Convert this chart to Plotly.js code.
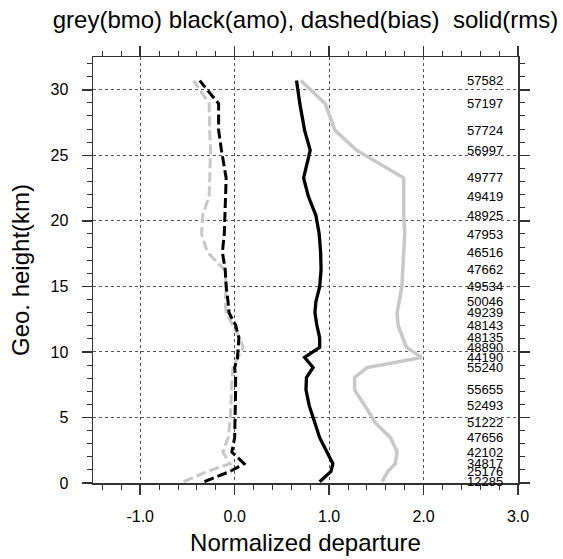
<!DOCTYPE html>
<html><head><meta charset="utf-8">
<script src="https://cdn.plot.ly/plotly-3.0.1.min.js"></script>
<style>html,body{margin:0;padding:0;background:#fff}#chart{width:563px;height:559px}</style>
</head><body><div id="chart"></div>
<script>
// Geometric height levels (km)
const levels = [0.1, 0.88, 1.47, 2.36, 3.46, 4.58, 5.88, 7.1, 8.05, 8.81, 9.58, 10.34, 11.08, 12.05, 12.99, 13.83, 14.98, 16.26, 17.61, 18.99, 20.41, 21.87, 23.27, 25.39, 26.92, 28.94, 30.7];
// Observation counts printed at each level
const counts = ["12285","25176","34817","42102","47656","51222","52493","55655","","55240","44190","48890","48135","48143","49239","50046","49534","47662","46516","47953","48925","49419","49777","56997","57724","57197","57582"];
// Normalized departures
const bmoBias = [-0.54, -0.29, -0.05, -0.125, -0.07, -0.05, -0.04, -0.035, -0.027, -0.018, 0.035, 0.09, 0.05, -0.02, -0.09, -0.10, -0.09, -0.105, -0.29, -0.35, -0.34, -0.27, -0.265, -0.255, -0.265, -0.27, -0.435];
const amoBias = [-0.32, -0.05, 0.10, -0.03, 0.0, 0.005, 0.01, 0.01, 0.01, 0.0, 0.03, 0.04, 0.045, 0.01, -0.06, -0.07, -0.09, -0.10, -0.13, -0.11, -0.105, -0.095, -0.09, -0.14, -0.17, -0.17, -0.37];
const bmoRms = [1.56, 1.62, 1.70, 1.72, 1.65, 1.49, 1.38, 1.27, 1.27, 1.40, 1.98, 1.82, 1.78, 1.73, 1.72, 1.74, 1.77, 1.78, 1.79, 1.80, 1.79, 1.79, 1.79, 1.29, 1.06, 0.96, 0.70];
const amoRms = [0.90, 1.02, 1.04, 0.98, 0.90, 0.85, 0.79, 0.755, 0.76, 0.83, 0.74, 0.90, 0.90, 0.87, 0.85, 0.86, 0.90, 0.915, 0.91, 0.895, 0.86, 0.78, 0.73, 0.80, 0.74, 0.69, 0.655];
const xTickVals = [-1, 0, 1, 2, 3];
const xTickText = ["-1.0", "0.0", "1.0", "2.0", "3.0"];
const yTickVals = [0, 5, 10, 15, 20, 25, 30];
const yTickText = ["0", "5", "10", "15", "20", "25", "30"];

const F = "Liberation Sans, Arial, Helvetica, sans-serif";
const grey = '#c8c8c8', black = '#000000';
const traces = [
  {x: bmoBias, y: levels, mode: 'lines', line: {color: grey, width: 3, dash: '10px,4px'}, hoverinfo: 'skip'},
  {x: bmoRms, y: levels, mode: 'lines', line: {color: grey, width: 3.5}, hoverinfo: 'skip'},
  {x: amoBias, y: levels, mode: 'lines', line: {color: black, width: 3, dash: '10px,4px'}, hoverinfo: 'skip'},
  {x: amoRms, y: levels, mode: 'lines', line: {color: black, width: 3.3}, hoverinfo: 'skip'}
];

const common = {
  showline: true, linecolor: '#333', linewidth: 1.5, mirror: 'allticks',
  ticks: 'outside', ticklen: 10, tickwidth: 1.5, tickcolor: '#333',
  showgrid: true, gridcolor: '#555', gridwidth: 1, griddash: '3px,3px',
  zeroline: false, tickfont: {family: F, size: 16, color: '#000'}, fixedrange: true
};

const annotations = [];
levels.forEach((lv, i) => {
  if (counts[i]) annotations.push({x: 2.65, y: lv, xref: 'x', yref: 'y', text: counts[i], showarrow: false,
    xanchor: 'center', yanchor: 'middle', font: {family: F, size: 13, color: '#000'}});
});

const layout = {
  width: 563, height: 559,
  margin: {l: 93, r: 45, t: 57, b: 76, pad: 0},
  paper_bgcolor: '#fff', plot_bgcolor: '#fff',
  showlegend: false,
  font: {family: F, color: '#000'},
  title: {text: 'grey(bmo) black(amo), dashed(bias)\u00a0 solid(rms)', font: {family: F, size: 24, color: '#000'},
    x: 0.5, xref: 'paper', xanchor: 'center', y: 1 - 20/559, yref: 'container', yanchor: 'middle'},
  xaxis: Object.assign({}, common, {
    range: [-1.5, 3], tickmode: 'array', tickvals: xTickVals, ticktext: xTickText,
    ticklabelstandoff: 8,
    minor: {tickmode: 'linear', tick0: 0, dtick: 0.2, ticks: 'outside', ticklen: 5, tickwidth: 1, tickcolor: '#333', showgrid: false},
    title: {text: 'Normalized departure', font: {family: F, size: 24, color: '#000'}, standoff: 10}
  }),
  yaxis: Object.assign({}, common, {
    range: [0, 32.5], tickmode: 'array', tickvals: yTickVals, ticktext: yTickText,
    ticklabelstandoff: 10,
    minor: {tickmode: 'linear', tick0: 0, dtick: 1, ticks: 'outside', ticklen: 5, tickwidth: 1, tickcolor: '#333', showgrid: false},
    title: {text: 'Geo. height(km)', font: {family: F, size: 24, color: '#000'}, standoff: 14}
  }),
  annotations: annotations
};

Plotly.newPlot('chart', traces, layout, {displayModeBar: false, staticPlot: true});
</script>
</body></html>
